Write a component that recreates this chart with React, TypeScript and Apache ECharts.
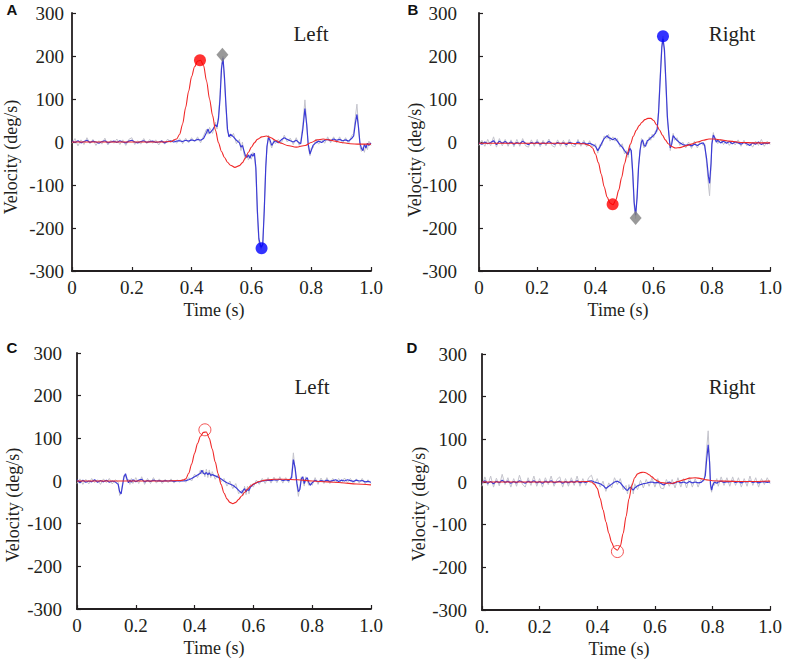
import React, { useEffect, useRef } from "react";
import * as echarts from "echarts";

// ---------- Data (time in s, velocity in deg/s) ----------
const xTicks = [0, 0.2, 0.4, 0.6, 0.8, 1.0];
const yTicks = [-300, -200, -100, 0, 100, 200, 300];
const panelLetters = ["A", "B", "C", "D"];
const sideLabels = ["Left", "Right", "Left", "Right"];
const xTitle = "Time (s)";
const yTitle = "Velocity (deg/s)";

// Panel A (Left)
const headA = [[0,0],[0.1,0],[0.2,0],[0.3,0],[0.33,1],[0.35,7],[0.36,18],[0.37,42],[0.38,80],[0.39,118],[0.40,152],[0.41,175],[0.42,188],[0.43,190],[0.44,178],[0.45,142],[0.46,100],[0.47,62],[0.48,27],[0.49,-2],[0.50,-22],[0.51,-36],[0.52,-47],[0.53,-54],[0.545,-59],[0.56,-55],[0.57,-48],[0.58,-37],[0.59,-24],[0.60,-12],[0.61,-2],[0.62,6],[0.635,12],[0.65,14],[0.665,10],[0.68,4],[0.70,-3],[0.72,-8],[0.75,-12],[0.78,-8],[0.80,-1],[0.82,5],[0.84,7],[0.86,5],[0.88,2],[0.90,-1],[0.93,-4],[0.96,-5],[1.0,-5]];
const eyeA = [[0,2],[0.01,-1],[0.02,3],[0.03,-2],[0.04,1],[0.05,4],[0.06,-1],[0.07,2],[0.08,0],[0.09,-3],[0.10,1],[0.11,3],[0.12,-2],[0.13,0],[0.14,2],[0.15,-1],[0.16,3],[0.17,0],[0.18,-2],[0.19,2],[0.20,4],[0.21,0],[0.22,-2],[0.23,1],[0.24,3],[0.25,-1],[0.26,1],[0.27,2],[0.28,-1],[0.29,0],[0.30,2],[0.31,-2],[0.32,1],[0.33,3],[0.34,0],[0.35,2],[0.36,3],[0.37,1],[0.38,4],[0.39,2],[0.40,5],[0.41,3],[0.42,6],[0.43,4],[0.44,8],[0.45,22],[0.455,30],[0.46,20],[0.47,28],[0.48,40],[0.485,35],[0.49,55],[0.495,100],[0.50,170],[0.505,196],[0.51,150],[0.515,85],[0.52,30],[0.525,12],[0.53,18],[0.54,12],[0.55,4],[0.56,-2],[0.565,-12],[0.57,-8],[0.575,-20],[0.58,-32],[0.585,-36],[0.59,-30],[0.595,-38],[0.60,-28],[0.605,-33],[0.61,-26],[0.615,-60],[0.62,-160],[0.625,-225],[0.632,-245],[0.638,-238],[0.643,-160],[0.648,-60],[0.652,-10],[0.657,10],[0.662,5],[0.668,-8],[0.675,0],[0.68,3],[0.69,-2],[0.70,5],[0.71,10],[0.72,6],[0.73,3],[0.74,0],[0.75,4],[0.76,-2],[0.765,-4],[0.772,30],[0.779,78],[0.785,40],[0.79,-5],[0.796,-28],[0.80,-20],[0.806,-8],[0.815,-2],[0.825,2],[0.835,-1],[0.845,4],[0.855,6],[0.865,3],[0.875,7],[0.885,4],[0.895,6],[0.905,3],[0.915,5],[0.925,2],[0.935,8],[0.942,14],[0.948,45],[0.953,64],[0.958,35],[0.963,-2],[0.968,-15],[0.973,-20],[0.978,-5],[0.983,-14],[0.988,-3],[0.993,-8],[1.0,-2]];
const rawA = [[0,-3],[0.01,8],[0.02,-9],[0.03,5],[0.04,-6],[0.05,10],[0.06,-4],[0.07,6],[0.08,-8],[0.09,3],[0.10,-5],[0.11,9],[0.12,-7],[0.13,4],[0.14,-3],[0.15,7],[0.16,-6],[0.17,5],[0.18,-8],[0.19,6],[0.20,10],[0.21,-6],[0.22,3],[0.23,-5],[0.24,8],[0.25,-4],[0.26,6],[0.27,-3],[0.28,5],[0.29,-7],[0.30,4],[0.31,-5],[0.32,7],[0.33,-2],[0.34,6],[0.35,-3],[0.36,8],[0.37,-4],[0.38,9],[0.39,-2],[0.40,10],[0.41,0],[0.42,12],[0.43,-2],[0.44,14],[0.45,30],[0.455,18],[0.46,34],[0.47,20],[0.48,46],[0.485,30],[0.49,62],[0.495,110],[0.50,180],[0.505,200],[0.51,140],[0.515,80],[0.52,22],[0.525,18],[0.53,10],[0.54,20],[0.55,-4],[0.56,6],[0.565,-20],[0.57,0],[0.575,-28],[0.58,-40],[0.585,-28],[0.59,-42],[0.595,-30],[0.60,-40],[0.605,-24],[0.61,-30],[0.615,-70],[0.62,-170],[0.625,-235],[0.632,-250],[0.638,-240],[0.643,-150],[0.648,-55],[0.652,-18],[0.657,16],[0.662,-2],[0.668,-14],[0.675,6],[0.68,-4],[0.69,6],[0.70,-3],[0.71,16],[0.72,0],[0.73,9],[0.74,-6],[0.75,10],[0.76,-8],[0.765,2],[0.772,40],[0.779,98],[0.785,45],[0.79,-12],[0.796,-32],[0.80,-14],[0.806,-14],[0.815,6],[0.825,-5],[0.835,6],[0.845,-3],[0.855,12],[0.865,-2],[0.875,12],[0.885,-2],[0.895,12],[0.905,-3],[0.915,10],[0.925,-4],[0.935,14],[0.942,20],[0.948,60],[0.953,88],[0.958,40],[0.963,-10],[0.968,-22],[0.973,-12],[0.978,-24],[0.983,-6],[0.988,-18],[0.993,2],[1.0,-8]];
const headPeakA = [[0.428, 190]];
const eyePeakA = [[0.634, -247]];
const diamondA = [[0.503, 203]];

// Panel B (Right)
const headB = [[0,-3],[0.1,-3],[0.2,-3],[0.3,-3],[0.36,-4],[0.38,-8],[0.39,-14],[0.40,-28],[0.41,-48],[0.42,-75],[0.43,-104],[0.44,-128],[0.45,-142],[0.46,-146],[0.47,-135],[0.48,-112],[0.49,-82],[0.50,-50],[0.51,-25],[0.52,-5],[0.53,13],[0.54,27],[0.55,38],[0.56,46],[0.57,52],[0.58,55],[0.59,55],[0.60,50],[0.61,40],[0.62,28],[0.63,16],[0.64,5],[0.65,-4],[0.66,-10],[0.675,-14],[0.69,-13],[0.71,-9],[0.73,-5],[0.75,0],[0.77,4],[0.79,7],[0.81,7],[0.83,5],[0.86,2],[0.90,-1],[0.95,-2],[1.0,-2]];
const eyeB = [[0,-2],[0.01,-5],[0.02,0],[0.03,-4],[0.04,-1],[0.05,3],[0.06,-6],[0.07,2],[0.08,-3],[0.09,1],[0.10,-4],[0.11,0],[0.12,-5],[0.13,-1],[0.14,-4],[0.15,2],[0.16,-3],[0.17,-6],[0.18,-1],[0.19,-4],[0.20,0],[0.21,-5],[0.22,-2],[0.23,-4],[0.24,1],[0.25,-3],[0.26,-5],[0.27,-1],[0.28,-4],[0.29,-2],[0.30,-6],[0.31,-1],[0.32,-3],[0.33,-5],[0.34,0],[0.35,-4],[0.36,-2],[0.37,-5],[0.38,-3],[0.39,-6],[0.40,-10],[0.408,-20],[0.415,-12],[0.422,-2],[0.43,8],[0.44,15],[0.445,10],[0.45,9],[0.46,5],[0.467,9],[0.475,2],[0.484,-6],[0.492,-12],[0.50,-20],[0.507,-26],[0.512,-29],[0.518,-15],[0.523,-20],[0.528,-70],[0.533,-140],[0.538,-170],[0.543,-130],[0.548,-60],[0.553,-20],[0.558,0],[0.562,5],[0.567,-8],[0.572,-10],[0.578,3],[0.585,6],[0.59,10],[0.595,12],[0.60,16],[0.606,20],[0.612,30],[0.617,70],[0.622,140],[0.628,220],[0.632,240],[0.637,215],[0.642,140],[0.647,60],[0.652,18],[0.657,-14],[0.662,-5],[0.667,15],[0.672,10],[0.68,4],[0.69,-2],[0.70,-6],[0.71,-8],[0.72,-6],[0.73,-9],[0.74,-5],[0.75,-8],[0.76,-4],[0.77,-2],[0.775,-8],[0.782,-40],[0.788,-80],[0.792,-96],[0.797,-50],[0.80,-5],[0.805,16],[0.81,10],[0.815,0],[0.82,4],[0.83,-2],[0.84,2],[0.85,-3],[0.86,1],[0.87,-4],[0.88,0],[0.89,-2],[0.90,-5],[0.91,-1],[0.92,-4],[0.93,-8],[0.94,-2],[0.95,-5],[0.96,0],[0.97,-6],[0.98,-2],[0.99,-4],[1.0,-1]];
const rawB = [[0,-8],[0.01,4],[0.02,-10],[0.03,6],[0.04,-9],[0.05,12],[0.06,-12],[0.07,8],[0.08,-9],[0.09,6],[0.10,-10],[0.11,5],[0.12,-11],[0.13,6],[0.14,-10],[0.15,8],[0.16,-9],[0.17,-12],[0.18,5],[0.19,-10],[0.20,6],[0.21,-11],[0.22,4],[0.23,-9],[0.24,7],[0.25,-8],[0.26,-12],[0.27,5],[0.28,-10],[0.29,4],[0.30,-12],[0.31,6],[0.32,-9],[0.33,-11],[0.34,6],[0.35,-10],[0.36,4],[0.37,-11],[0.38,3],[0.39,-12],[0.40,-4],[0.408,-26],[0.415,-6],[0.422,-8],[0.43,14],[0.44,8],[0.445,18],[0.45,2],[0.46,12],[0.467,2],[0.475,8],[0.484,-12],[0.492,-4],[0.50,-28],[0.507,-20],[0.512,-36],[0.518,-8],[0.523,-26],[0.528,-80],[0.533,-150],[0.538,-178],[0.543,-120],[0.548,-52],[0.553,-26],[0.558,8],[0.562,-2],[0.567,-14],[0.572,-2],[0.578,-4],[0.585,12],[0.59,4],[0.595,18],[0.60,10],[0.606,26],[0.612,24],[0.617,80],[0.622,150],[0.628,230],[0.632,246],[0.637,205],[0.642,130],[0.647,50],[0.652,24],[0.657,-20],[0.662,2],[0.667,20],[0.672,4],[0.68,10],[0.69,-8],[0.70,0],[0.71,-14],[0.72,0],[0.73,-15],[0.74,2],[0.75,-14],[0.76,2],[0.77,-8],[0.775,-4],[0.782,-50],[0.788,-100],[0.792,-125],[0.797,-60],[0.80,0],[0.805,22],[0.81,4],[0.815,6],[0.82,-4],[0.83,6],[0.84,-6],[0.85,4],[0.86,-8],[0.87,3],[0.88,-7],[0.89,5],[0.90,-10],[0.91,4],[0.92,-9],[0.93,-2],[0.94,-12],[0.95,2],[0.96,-8],[0.97,6],[0.98,-10],[0.99,2],[1.0,-6]];
const headPeakB = [[0.459, -145]];
const eyePeakB = [[0.632, 246]];
const diamondB = [[0.538, -177]];

// Panel C (Left)
const headC = [[0,0],[0.1,0],[0.2,0],[0.3,0],[0.35,1],[0.36,2],[0.37,5],[0.38,18],[0.39,40],[0.40,65],[0.41,88],[0.42,105],[0.43,114],[0.44,115],[0.45,100],[0.46,75],[0.47,45],[0.48,17],[0.49,-8],[0.50,-28],[0.51,-42],[0.52,-50],[0.53,-53],[0.54,-50],[0.55,-43],[0.56,-35],[0.57,-27],[0.58,-19],[0.59,-12],[0.60,-7],[0.62,-1],[0.64,2],[0.67,4],[0.70,4],[0.75,3],[0.80,0],[0.85,-2],[0.90,-4],[0.95,-7],[1.0,-9]];
const eyeC = [[0,3],[0.01,-4],[0.02,2],[0.03,-3],[0.04,0],[0.05,-2],[0.06,3],[0.07,-3],[0.08,1],[0.09,-2],[0.10,2],[0.11,-3],[0.12,0],[0.13,-2],[0.14,-8],[0.145,-25],[0.15,-30],[0.155,-10],[0.16,10],[0.165,17],[0.17,5],[0.175,-4],[0.18,2],[0.185,-3],[0.19,3],[0.20,-2],[0.21,2],[0.22,4],[0.23,-2],[0.24,1],[0.25,-1],[0.26,2],[0.27,0],[0.28,1],[0.29,-1],[0.30,1],[0.31,0],[0.32,1],[0.33,-1],[0.34,0],[0.35,1],[0.36,0],[0.37,1],[0.38,3],[0.39,6],[0.40,10],[0.41,14],[0.42,18],[0.425,25],[0.43,18],[0.435,16],[0.44,20],[0.445,15],[0.45,19],[0.455,13],[0.46,15],[0.47,12],[0.48,9],[0.49,5],[0.50,0],[0.51,-4],[0.52,-7],[0.53,-10],[0.54,-15],[0.55,-22],[0.56,-28],[0.565,-22],[0.57,-18],[0.575,-25],[0.58,-20],[0.585,-22],[0.59,-14],[0.60,-8],[0.61,-4],[0.62,-2],[0.63,0],[0.64,1],[0.65,2],[0.66,1],[0.67,3],[0.68,2],[0.69,4],[0.70,1],[0.71,3],[0.72,1],[0.73,8],[0.736,50],[0.742,30],[0.748,-5],[0.753,-25],[0.758,-20],[0.763,5],[0.768,10],[0.773,-6],[0.778,4],[0.783,8],[0.788,-3],[0.793,-10],[0.80,-4],[0.81,2],[0.82,-2],[0.83,1],[0.84,-1],[0.85,2],[0.86,-1],[0.87,1],[0.88,3],[0.89,-1],[0.90,2],[0.91,0],[0.92,3],[0.93,1],[0.94,-1],[0.95,2],[0.96,0],[0.97,1],[0.98,-2],[0.99,-1],[1.0,-3]];
const rawC = [[0,-6],[0.01,5],[0.02,-8],[0.03,4],[0.04,-7],[0.05,6],[0.06,-4],[0.07,3],[0.08,-8],[0.09,5],[0.10,-4],[0.11,6],[0.12,-7],[0.13,3],[0.14,-2],[0.145,-34],[0.15,-28],[0.155,-4],[0.16,14],[0.165,12],[0.17,0],[0.175,4],[0.18,-8],[0.185,6],[0.19,-6],[0.20,8],[0.21,-6],[0.22,10],[0.23,-8],[0.24,6],[0.25,-6],[0.26,8],[0.27,-5],[0.28,5],[0.29,-6],[0.30,4],[0.31,-4],[0.32,5],[0.33,-5],[0.34,3],[0.35,-3],[0.36,4],[0.37,-3],[0.38,8],[0.39,0],[0.40,16],[0.41,8],[0.42,26],[0.425,16],[0.43,26],[0.435,10],[0.44,28],[0.445,8],[0.45,26],[0.455,8],[0.46,22],[0.47,4],[0.48,16],[0.49,-2],[0.50,6],[0.51,-12],[0.52,0],[0.53,-18],[0.54,-6],[0.55,-30],[0.56,-22],[0.565,-34],[0.57,-12],[0.575,-32],[0.58,-12],[0.585,-30],[0.59,-8],[0.60,-14],[0.61,2],[0.62,-8],[0.63,6],[0.64,-6],[0.65,8],[0.66,-5],[0.67,9],[0.68,-4],[0.69,10],[0.70,-5],[0.71,8],[0.72,-4],[0.73,14],[0.736,66],[0.742,24],[0.748,-12],[0.753,-36],[0.758,-14],[0.763,10],[0.768,2],[0.773,-12],[0.778,10],[0.783,2],[0.788,-10],[0.793,-4],[0.80,-10],[0.81,8],[0.82,-8],[0.83,7],[0.84,-6],[0.85,8],[0.86,-6],[0.87,6],[0.88,-4],[0.89,6],[0.90,-5],[0.91,7],[0.92,-4],[0.93,6],[0.94,-6],[0.95,5],[0.96,-5],[0.97,6],[0.98,-7],[0.99,3],[1.0,-6]];
const headPeakC = [[0.435, 120]];

// Panel D (Right)
const headD = [[0,0],[0.1,0],[0.2,0],[0.3,0],[0.37,1],[0.38,0],[0.39,-5],[0.40,-15],[0.41,-38],[0.42,-65],[0.43,-93],[0.44,-120],[0.45,-142],[0.46,-156],[0.47,-160],[0.48,-150],[0.49,-120],[0.50,-81],[0.51,-40],[0.52,-8],[0.53,10],[0.54,19],[0.55,22],[0.56,23],[0.57,21],[0.58,17],[0.59,12],[0.60,6],[0.61,2],[0.62,-1],[0.64,-3],[0.66,-3],[0.68,1],[0.70,5],[0.72,9],[0.74,10],[0.76,8],[0.78,5],[0.80,3],[0.84,2],[0.90,1],[1.0,2]];
const eyeD = [[0,-2],[0.01,3],[0.02,-3],[0.03,1],[0.04,-4],[0.05,2],[0.06,-2],[0.07,4],[0.08,-1],[0.09,2],[0.10,-3],[0.11,1],[0.12,-2],[0.13,3],[0.14,0],[0.15,-3],[0.16,2],[0.17,-1],[0.18,3],[0.19,-2],[0.20,1],[0.21,-3],[0.22,2],[0.23,-1],[0.24,3],[0.25,-2],[0.26,0],[0.27,2],[0.28,-3],[0.29,1],[0.30,-2],[0.31,2],[0.32,-1],[0.33,3],[0.34,-2],[0.35,1],[0.36,-1],[0.37,2],[0.38,3],[0.39,0],[0.40,-2],[0.41,-4],[0.42,-8],[0.43,-15],[0.44,-10],[0.45,-5],[0.46,0],[0.47,2],[0.48,-2],[0.49,-10],[0.50,-18],[0.505,-20],[0.51,-15],[0.515,-12],[0.52,-16],[0.525,-19],[0.53,-14],[0.54,-9],[0.55,-6],[0.56,-4],[0.57,-3],[0.58,-1],[0.59,0],[0.60,-2],[0.61,-1],[0.62,-3],[0.63,-7],[0.64,-3],[0.65,0],[0.66,-4],[0.67,-2],[0.68,1],[0.69,-2],[0.70,0],[0.71,-3],[0.72,1],[0.73,-2],[0.74,0],[0.75,-2],[0.76,-1],[0.77,5],[0.775,15],[0.78,55],[0.785,87],[0.79,45],[0.793,-5],[0.797,-19],[0.80,-10],[0.806,0],[0.815,-3],[0.82,0],[0.83,2],[0.84,-1],[0.85,1],[0.86,0],[0.87,2],[0.88,-1],[0.89,1],[0.90,-2],[0.91,1],[0.92,0],[0.93,2],[0.94,-1],[0.95,1],[0.96,-2],[0.97,0],[0.98,1],[0.99,-1],[1.0,0]];
const rawD = [[0,-10],[0.01,12],[0.02,-8],[0.03,14],[0.04,-12],[0.05,9],[0.06,-9],[0.07,18],[0.08,-6],[0.09,10],[0.10,-12],[0.11,8],[0.12,-10],[0.13,16],[0.14,-5],[0.15,-12],[0.16,10],[0.17,-8],[0.18,14],[0.19,-10],[0.20,8],[0.21,-12],[0.22,10],[0.23,-6],[0.24,14],[0.25,-10],[0.26,6],[0.27,12],[0.28,-12],[0.29,8],[0.30,-10],[0.31,10],[0.32,-8],[0.33,14],[0.34,-10],[0.35,8],[0.36,-8],[0.37,10],[0.38,16],[0.39,-6],[0.40,8],[0.41,-12],[0.42,2],[0.43,-22],[0.44,-2],[0.45,-14],[0.46,10],[0.47,-6],[0.48,8],[0.49,-18],[0.50,-8],[0.505,-28],[0.51,-6],[0.515,-22],[0.52,-4],[0.525,-28],[0.53,-4],[0.54,-18],[0.55,4],[0.56,-14],[0.57,6],[0.58,-10],[0.59,10],[0.60,-12],[0.61,8],[0.62,-14],[0.63,-16],[0.64,6],[0.65,-10],[0.66,6],[0.67,-14],[0.68,10],[0.69,-12],[0.70,8],[0.71,-14],[0.72,10],[0.73,-12],[0.74,8],[0.75,-12],[0.76,6],[0.77,2],[0.775,30],[0.78,80],[0.785,120],[0.79,50],[0.793,-12],[0.797,-24],[0.80,-4],[0.806,-8],[0.815,8],[0.82,-10],[0.83,12],[0.84,-8],[0.85,10],[0.86,-10],[0.87,12],[0.88,-8],[0.89,10],[0.90,-12],[0.91,8],[0.92,-10],[0.93,14],[0.94,-8],[0.95,10],[0.96,-12],[0.97,8],[0.98,-6],[0.99,10],[1.0,-4]];
const headPeakD = [[0.47, -163]];

// ---------- Layout ----------
const SERIF = "Liberation Serif";
const TEXT = "#231f20";
const grids = [
  { left: 72, top: 13, width: 299, height: 258 },
  { left: 479, top: 13, width: 298, height: 258 },
  { left: 77, top: 353, width: 294, height: 256 },
  { left: 482, top: 354, width: 296, height: 256 },
];
const yLabelMargins = [8, 22, 15, 15];
const letterPos = [[12, 9], [413, 9], [12, 347], [412, 347]];
const sidePos = [[311, 34], [732, 34], [312, 387], [732, 387]];
const xTitlePos = [[214, 310], [618, 310], [214, 648], [619, 649]];
const yTitlePos = [[11, 157], [415, 160], [13, 505], [419, 504]];

function fmtX(panel: number) {
  return (v: number) => {
    if (Math.abs(v) < 1e-9) return panel === 3 ? "0." : "0";
    return v.toFixed(1);
  };
}

export default function App() {
  const ref = useRef<HTMLDivElement>(null);
  useEffect(() => {
    document.body.style.margin = "0";
    const chart = echarts.init(ref.current!, null, { renderer: "svg" });

    const panels = [
      { head: headA, eye: eyeA, raw: rawA },
      { head: headB, eye: eyeB, raw: rawB },
      { head: headC, eye: eyeC, raw: rawC },
      { head: headD, eye: eyeD, raw: rawD },
    ];

    const xAxes = grids.map((_, i) => ({
      type: "value",
      gridIndex: i,
      min: xTicks[0],
      max: xTicks[xTicks.length - 1],
      interval: 0.2,
      splitLine: { show: false },
      axisLine: { show: true, onZero: false, lineStyle: { color: TEXT, width: 1.8 } },
      axisTick: { show: true, inside: true, length: 4, lineStyle: { color: TEXT, width: 1.2 } },
      axisLabel: { margin: 7, fontSize: 19, fontFamily: SERIF, color: TEXT, formatter: fmtX(i) },
    }));
    const yAxes = grids.map((_, i) => ({
      type: "value",
      gridIndex: i,
      min: yTicks[0],
      max: yTicks[yTicks.length - 1],
      interval: 100,
      splitLine: { show: false },
      axisLine: { show: true, onZero: false, lineStyle: { color: TEXT, width: 1.8 } },
      axisTick: { show: true, inside: true, length: 4, lineStyle: { color: TEXT, width: 1.2 } },
      axisLabel: {
        margin: yLabelMargins[i],
        fontSize: 19,
        fontFamily: SERIF,
        color: TEXT,
        padding: [0, 0, 10, 0],
      },
    }));

    const series: any[] = [];
    panels.forEach((p, i) => {
      series.push({
        type: "line", xAxisIndex: i, yAxisIndex: i, data: p.raw, showSymbol: false, symbol: "none",
        lineStyle: { color: "#c4c4cc", width: 1 }, z: 1, silent: true,
      });
      series.push({
        type: "line", xAxisIndex: i, yAxisIndex: i, data: p.eye, showSymbol: false, symbol: "none",
        lineStyle: { color: "#3b3bd6", width: 1.2 }, z: 2, silent: true,
      });
      series.push({
        type: "line", xAxisIndex: i, yAxisIndex: i, data: p.head, showSymbol: false, symbol: "none",
        smooth: 0.3, smoothMonotone: "x",
        lineStyle: { color: "#f02828", width: 1.1 }, z: 3, silent: true,
      });
    });
    const filled = (idx: number, data: number[][], color: string, symbol = "circle", size: any = 12) => ({
      type: "scatter", xAxisIndex: idx, yAxisIndex: idx, data, symbol, symbolSize: size,
      itemStyle: { color }, z: 5, silent: true,
    });
    series.push(filled(0, headPeakA, "#ff0000"));
    series.push(filled(0, eyePeakA, "#0000ff"));
    series.push(filled(0, diamondA, "#7f7f7f", "diamond", [12, 14]));
    series.push(filled(1, headPeakB, "#ff0000"));
    series.push(filled(1, eyePeakB, "#0000ff"));
    series.push(filled(1, diamondB, "#7f7f7f", "diamond", [12, 14]));
    [[2, headPeakC], [3, headPeakD]].forEach(([idx, d]: any) => {
      series.push({
        type: "scatter", xAxisIndex: idx, yAxisIndex: idx, data: d, symbol: "circle", symbolSize: 12,
        itemStyle: { color: "rgba(0,0,0,0)", borderColor: "#f02828", borderWidth: 1 }, z: 5, silent: true,
      });
    });

    const graphics: any[] = [];
    grids.forEach((_, i) => {
      graphics.push({
        type: "text", x: letterPos[i][0], y: letterPos[i][1],
        style: { text: panelLetters[i], font: "bold 15px 'Liberation Sans'", fill: "#111", textAlign: "center", textVerticalAlign: "middle" },
      });
      graphics.push({
        type: "text", x: sidePos[i][0], y: sidePos[i][1],
        style: { text: sideLabels[i], font: `21px '${SERIF}'`, fill: TEXT, textAlign: "center", textVerticalAlign: "middle" },
      });
      graphics.push({
        type: "text", x: xTitlePos[i][0], y: xTitlePos[i][1],
        style: { text: xTitle, font: `18px '${SERIF}'`, fill: TEXT, textAlign: "center", textVerticalAlign: "middle" },
      });
      graphics.push({
        type: "text", x: yTitlePos[i][0], y: yTitlePos[i][1], rotation: Math.PI / 2,
        style: { text: yTitle, font: `18px '${SERIF}'`, fill: TEXT, textAlign: "center", textVerticalAlign: "middle" },
      });
    });

    chart.setOption({
      animation: false,
      backgroundColor: "#ffffff",
      grid: grids,
      xAxis: xAxes,
      yAxis: yAxes,
      series,
      graphic: graphics,
    });
    return () => chart.dispose();
  }, []);
  return <div ref={ref} style={{ width: 785, height: 661 }} />;
}
